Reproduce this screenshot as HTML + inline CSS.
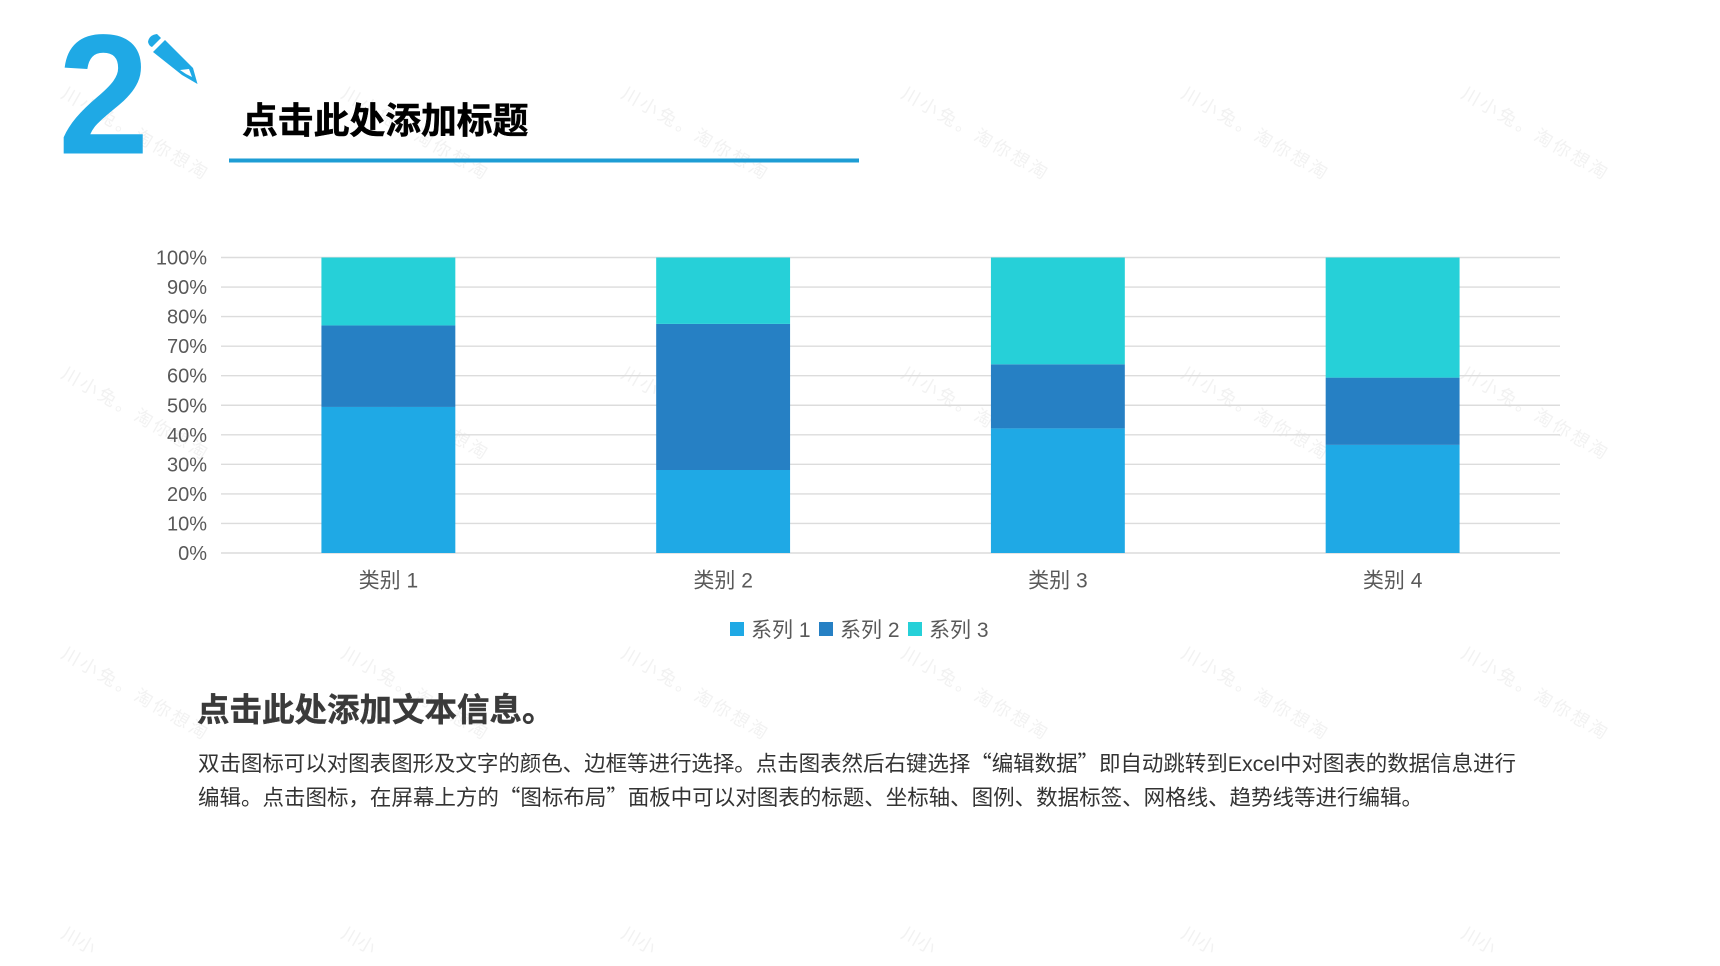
<!DOCTYPE html>
<html lang="zh-CN">
<head>
<meta charset="utf-8">
<title>图表</title>
<style>
html,body{margin:0;padding:0;background:#fff;width:1720px;height:966px;overflow:hidden}
svg{display:block;position:absolute;left:0;top:0}
text{font-family:"Liberation Sans","Noto Sans CJK SC",sans-serif}
</style>
</head>
<body>
<svg id="slide" width="1720" height="966" viewBox="0 0 1720 966" xmlns="http://www.w3.org/2000/svg">
  <rect width="1720" height="966" fill="#ffffff"/>
  <g id="watermarks"></g>
  <text transform="translate(58 153.5) scale(0.96 1)" font-size="171" font-weight="700" fill="#1fa9e5">2</text>
  <g>
    <path d="M148 42 Q149 35 157 34 L161 38 L152 47 Q149 46 148 42 Z" fill="#1fa9e5"/>
    <path d="M153 52 L165 40 L193 68 L197.5 84 L182 75 Z" fill="#1fa9e5"/>
    <path d="M180 70 L189 69 L192 77 L186 74 Z" fill="#ffffff"/>
  </g>
  <text x="242" y="133" font-size="35.8" font-weight="700" fill="#000000" stroke="#000000" stroke-width="0.5">点击此处添加标题</text>
  <rect x="229" y="158.5" width="630" height="4" fill="#1e9dd4"/>
  <g id="chart"></g>
  <text x="197" y="721" font-size="32.5" font-weight="700" fill="#3a3a3a" stroke="#3a3a3a" stroke-width="0.4">点击此处添加文本信息。</text>
  <text x="198" y="771" font-size="21.5" fill="#333333" textLength="1318" lengthAdjust="spacing"><tspan font-family="'Noto Sans CJK SC',sans-serif">双击图标可以对图表图形及文字的颜色、边框等进行选择。点击图表然后右键选择“编辑数据”即自动跳转到</tspan><tspan>Excel</tspan><tspan font-family="'Noto Sans CJK SC',sans-serif">中对图表的数据信息进行</tspan></text>
  <text x="198" y="805" font-size="21.5" fill="#333333" textLength="1225" lengthAdjust="spacing" font-family="'Noto Sans CJK SC',sans-serif" style="font-family:'Noto Sans CJK SC',sans-serif">编辑。点击图标，在屏幕上方的“图标布局”面板中可以对图表的标题、坐标轴、图例、数据标签、网格线、趋势线等进行编辑。</text>
</svg>
<script>
var categories = ['类别 1', '类别 2', '类别 3', '类别 4'];
var seriesNames = ['系列 1', '系列 2', '系列 3'];
var series1 = [4.3, 2.5, 3.5, 4.5];
var series2 = [2.4, 4.4, 1.8, 2.8];
var series3 = [2.0, 2.0, 3.0, 5.0];
var tickLabels = ['0%', '10%', '20%', '30%', '40%', '50%', '60%', '70%', '80%', '90%', '100%'];
var tickValues = [0, 10, 20, 30, 40, 50, 60, 70, 80, 90, 100];

var NS = 'http://www.w3.org/2000/svg';
var allSeries = [series1, series2, series3];
var seriesColors = ['#1fa9e5', '#2680c4', '#26d0d8'];
var plot = {left: 221, right: 1560, top: 257.5, bottom: 553};

function yScale(pct) {
  return plot.bottom - (pct / 100) * (plot.bottom - plot.top);
}
function bandWidth() {
  return (plot.right - plot.left) / categories.length;
}
function xCenter(i) {
  return plot.left + bandWidth() * (i + 0.5);
}
function svgEl(tag, attrs, parent) {
  var el = document.createElementNS(NS, tag);
  for (var k in attrs) el.setAttribute(k, attrs[k]);
  parent.appendChild(el);
  return el;
}

var chart = document.getElementById('chart');

var gridGroup = svgEl('g', {}, chart);


var yAxisGroup = svgEl('g', {}, chart);


tickValues.forEach(function (v, i) {
  var y = yScale(v);
  var line = svgEl('line', {x1: plot.left, x2: plot.right, y1: y, y2: y, stroke: '#dcdcdc', 'stroke-width': 1.4}, gridGroup);
  
  
  var label = svgEl('text', {x: 207, y: y + 7, 'text-anchor': 'end', 'font-size': 20, fill: '#595959'}, yAxisGroup);
  label.textContent = tickLabels[i];
  
  
});

var barsGroup = svgEl('g', {}, chart);


var xAxisGroup = svgEl('g', {}, chart);


categories.forEach(function (cat, i) {
  var total = 0;
  allSeries.forEach(function (s) { total += s[i]; });
  var cum = 0;
  var w = bandWidth() * 0.4;
  allSeries.forEach(function (s, si) {
    var y0 = yScale(cum / total * 100);
    cum += s[i];
    var y1 = yScale(cum / total * 100);
    var bar = svgEl('rect', {x: xCenter(i) - w / 2, y: y1, width: w, height: y0 - y1, fill: seriesColors[si]}, barsGroup);
    
    
  });
  var label = svgEl('text', {x: xCenter(i), y: 587.5, 'text-anchor': 'middle', 'font-size': 21, fill: '#595959'}, xAxisGroup);
  label.textContent = cat;
  
  
});

var legendGroup = svgEl('g', {}, chart);


var legendStart = 730;
var legendStep = 89;
seriesNames.forEach(function (name, i) {
  var x = legendStart + legendStep * i;
  var entry = svgEl('g', {}, legendGroup);
  
  
  var swatch = svgEl('rect', {x: x, y: 622, width: 14, height: 14, fill: seriesColors[i]}, entry);
  
  
  var label = svgEl('text', {x: x + 21, y: 637, 'font-size': 21, fill: '#595959'}, entry);
  label.textContent = name;
  
  
});

var wmGroup = document.getElementById('watermarks');
for (var row = 0; row < 4; row++) {
  for (var col = 0; col < 6; col++) {
    var wx = 60 + col * 280;
    var wy = 97 + row * 280;
    var mark = svgEl('text', {x: wx, y: wy, 'font-size': 18, fill: '#f2f2f2', transform: 'rotate(30 ' + wx + ' ' + wy + ')'}, wmGroup);
    if (row < 3) {
      mark.setAttribute('textLength', '165');
      mark.textContent = '川小兔。淘你想淘';
    } else {
      mark.textContent = '川小';
    }
    
    
  }
}
</script>
</body>
</html>
